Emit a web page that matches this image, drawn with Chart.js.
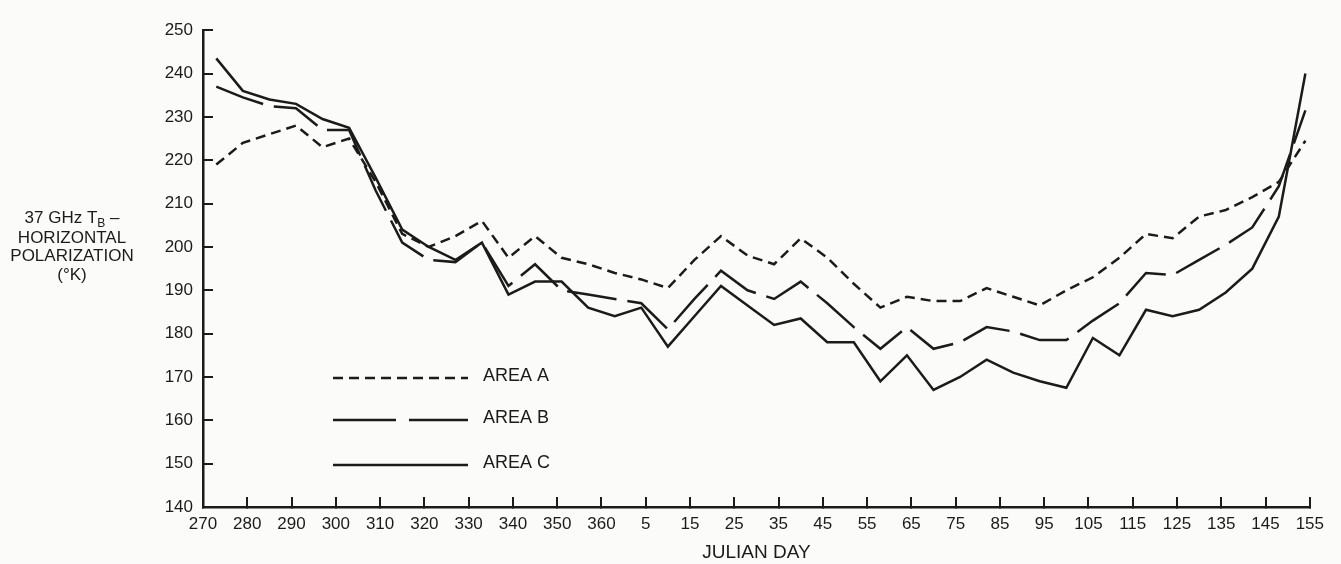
<!DOCTYPE html>
<html>
<head>
<meta charset="utf-8">
<script src="https://cdn.jsdelivr.net/npm/chart.js@4.4.0/dist/chart.umd.min.js"></script>
<style>
  html, body { margin: 0; padding: 0; background: #fbfcf9; }
  #wrap { width: 1341px; height: 564px; position: relative; }
</style>
</head>
<body>
<div id="wrap"><canvas id="tbChart"></canvas></div>
<script>
// Julian day of each pass (the record runs from autumn into the next year)
const julianDays = [273, 279, 285, 291, 297, 303, 309, 315, 321, 327, 333, 339, 345, 351, 357, 363,
  4, 10, 16, 22, 28, 34, 40, 46, 52, 58, 64, 70, 76, 82, 88, 94, 100, 106, 112, 118, 124, 130, 136, 142, 148, 154];

// 37 GHz horizontal brightness temperature, K
const areaA = [219, 224, 226, 228, 223, 225, 215, 203, 200, 202.5, 206, 197.5, 202.5, 197.5, 196, 194,
  192.5, 190.5, 197, 202.5, 198, 196, 202, 197.5, 191.5, 186, 188.5, 187.5, 187.5, 190.5, 188.5, 186.5,
  190, 193, 197.5, 203, 202, 207, 208.5, 211.5, 215, 224.5];
const areaB = [237, 234.5, 232.5, 232, 227, 227, 213, 201, 197, 196.5, 201, 191, 196, 190, 189, 188,
  187, 181, 188, 194.5, 190, 188, 192, 187, 181.5, 176.5, 181.5, 176.5, 178, 181.5, 180.5, 178.5,
  178.5, 183, 187, 194, 193.5, 197, 200.5, 204.5, 214, 231.5];
const areaC = [243.5, 236, 234, 233, 229.5, 227.5, 216, 204, 200, 197, 201, 189, 192, 192, 186, 184,
  186, 177, 184, 191, 186.5, 182, 183.5, 178, 178, 169, 175, 167, 170, 174, 171, 169,
  167.5, 179, 175, 185.5, 184, 185.5, 189.5, 195, 207, 240];

const xTickLabels = ['270', '280', '290', '300', '310', '320', '330', '340', '350', '360',
  '5', '15', '25', '35', '45', '55', '65', '75', '85', '95', '105', '115', '125', '135', '145', '155'];
const seriesLabels = ['AREA A', 'AREA B', 'AREA C'];
const yTitleTail = ['HORIZONTAL', 'POLARIZATION', '(\u00B0K)'];

const ink = '#1b1b1b';
const FONT = '"Liberation Sans", Arial, Helvetica, sans-serif';

// days after 365 continue on the same axis so that 5 sits right after 360
function runningDay(d) {
  return d < 270 ? d + 365 : d;
}

function toPoints(values) {
  return values.map((v, i) => ({ x: runningDay(julianDays[i]), y: v }));
}

// y title (with the subscript) and the in-plot legend are drawn by hand
const annotations = {
  id: 'annotations',
  afterDraw(chart) {
    const ctx = chart.ctx;
    ctx.save();
    ctx.fillStyle = ink;
    ctx.strokeStyle = ink;
    ctx.textBaseline = 'middle';

    // "37 GHz T_B –"
    const cx = 72;
    const big = '17px ' + FONT, small = '12px ' + FONT;
    ctx.font = big;
    const w1 = ctx.measureText('37 GHz T').width;
    const w3 = ctx.measureText(' \u2013').width;
    ctx.font = small;
    const w2 = ctx.measureText('B').width;
    let x0 = cx - (w1 + w2 + w3) / 2;
    ctx.textAlign = 'left';
    ctx.font = big;
    ctx.fillText('37 GHz T', x0, 218);
    ctx.font = small;
    ctx.fillText('B', x0 + w1, 224);
    ctx.font = big;
    ctx.fillText(' \u2013', x0 + w1 + w2, 218);
    ctx.textAlign = 'center';
    yTitleTail.forEach((line, i) => ctx.fillText(line, cx, 238 + i * 18.5));

    // legend (the long dash sample is drawn a little coarser, as printed)
    const rows = [378, 420, 465];
    const keyDash = [[10, 6], [63, 13], []];
    chart.data.datasets.forEach((ds, i) => {
      ctx.lineWidth = ds.borderWidth;
      ctx.setLineDash(keyDash[i]);
      ctx.beginPath();
      ctx.moveTo(333, rows[i]);
      ctx.lineTo(468, rows[i]);
      ctx.stroke();
      ctx.setLineDash([]);
      ctx.font = '18px ' + FONT;
      ctx.textAlign = 'left';
      ctx.fillText(ds.label, 483, rows[i] - 2);
    });
    ctx.restore();
  }
};

const lineStyle = {
  borderColor: ink,
  borderWidth: 2.5,
  pointRadius: 0,
  tension: 0,
  fill: false,
  borderCapStyle: 'butt'
};

new Chart(document.getElementById('tbChart'), {
  type: 'line',
  data: {
    datasets: [
      { ...lineStyle, label: seriesLabels[0], data: toPoints(areaA), borderDash: [10, 6] },
      { ...lineStyle, label: seriesLabels[1], data: toPoints(areaB), borderDash: [50, 11] },
      { ...lineStyle, label: seriesLabels[2], data: toPoints(areaC) }
    ]
  },
  options: {
    responsive: true,
    maintainAspectRatio: false,
    animation: false,
    layout: { padding: { top: 16, right: 28, left: 0, bottom: 0 } },
    plugins: {
      legend: { display: false },
      tooltip: { enabled: false }
    },
    scales: {
      x: {
        type: 'linear',
        min: 270,
        max: 520,
        afterFit: s => { s.height = 57; },
        afterBuildTicks: s => {
          s.ticks = xTickLabels.map((_, i) => ({ value: 270 + i * 10 }));
        },
        ticks: {
          color: ink,
          font: { family: FONT, size: 17 },
          padding: 17,
          maxRotation: 0,
          autoSkip: false,
          callback: (v, i) => xTickLabels[i]
        },
        grid: { drawOnChartArea: false, drawTicks: true, tickLength: -10, color: ink, lineWidth: 2 },
        border: { display: true, color: ink, width: 2.5 },
        title: {
          display: true,
          text: 'JULIAN DAY',
          color: ink,
          font: { family: FONT, size: 19 },
          padding: { top: 0, bottom: 0 }
        }
      },
      y: {
        min: 140,
        max: 250,
        afterFit: s => { s.width = 203; },
        ticks: {
          stepSize: 10,
          color: ink,
          font: { family: FONT, size: 17 },
          padding: 20
        },
        grid: { drawOnChartArea: false, drawTicks: true, tickLength: -10, color: ink, lineWidth: 2 },
        border: { display: true, color: ink, width: 2.5 }
      }
    }
  },
  plugins: [annotations]
});
</script>
</body>
</html>
